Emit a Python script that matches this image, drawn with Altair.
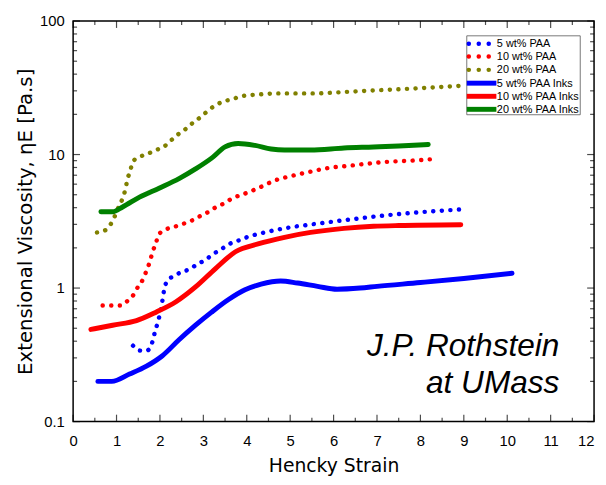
import altair as alt
import pandas as pd

# ---------------- data ----------------
series_names = ["5 wt% PAA", "10 wt% PAA", "20 wt% PAA",
                "5 wt% PAA Inks", "10 wt% PAA Inks", "20 wt% PAA Inks"]
legend_labels = ["5 wt% PAA", "10 wt% PAA", " 20 wt% PAA",
                 "5 wt% PAA Inks", "10 wt% PAA Inks", "20 wt% PAA Inks"]
series_colors = ["#0000FF", "#FF0000", "#808000", "#0000FF", "#FF0000", "#008000"]
series_dotted = [True, True, True, False, False, False]

paa5_x = [1.38, 1.55, 1.7, 1.82, 1.87, 1.94, 2.03, 2.1, 2.17, 2.3, 2.48, 2.67, 2.85, 3.05,
          3.23, 3.42, 3.6, 3.78, 4.0, 4.5, 5.0, 5.5, 6.0, 6.5, 7.0, 7.5, 8.0, 8.5, 9.04]
paa5_y = [0.37, 0.34, 0.34, 0.39, 0.45, 0.54, 0.71, 0.98, 1.14, 1.22, 1.31, 1.38, 1.5, 1.63,
          1.8, 1.96, 2.14, 2.25, 2.4, 2.65, 2.85, 3.0, 3.15, 3.3, 3.45, 3.58, 3.7, 3.8, 3.9]

paa10_x = [0.68, 0.91, 1.09, 1.25, 1.39, 1.5, 1.62, 1.7, 1.77, 1.83, 1.91, 1.96, 2.14, 2.35,
           2.55, 2.73, 2.94, 3.12, 3.3, 3.5, 3.67, 3.87, 4.26, 4.65, 5.06, 5.47, 5.9, 6.31,
           6.72, 7.2, 7.8, 8.4]
paa10_y = [0.74, 0.74, 0.74, 0.8, 0.89, 1.03, 1.18, 1.38, 1.58, 1.87, 2.17, 2.49, 2.75, 2.89,
           3.04, 3.2, 3.48, 3.72, 4.05, 4.34, 4.72, 4.97, 5.6, 6.4, 6.95, 7.45, 7.95, 8.2,
           8.5, 8.8, 9.0, 9.3]

paa20_x = [0.55, 0.73, 0.89, 1.05, 1.14, 1.21, 1.25, 1.32, 1.37, 1.53, 1.71, 1.91, 2.1, 2.26,
           2.41, 2.6, 2.76, 2.94, 3.1, 3.28, 3.49, 3.67, 3.87, 4.3, 4.72, 5.17, 5.63, 6.01,
           6.42, 6.83, 7.5, 8.2, 9.04]
paa20_y = [2.61, 2.7, 3.1, 4.05, 4.7, 5.6, 6.5, 7.6, 8.8, 9.6, 10.1, 10.8, 11.5, 12.8,
           14.1, 15.6, 17.3, 19.1, 21.2, 23.4, 25.1, 26.0, 27.3, 28.2, 28.7, 28.7, 28.7, 29.1,
           29.6, 30.1, 30.8, 31.7, 32.9]

ink5_x = [0.57, 0.89, 1.3, 1.69, 2.05, 2.44, 2.82, 3.19, 3.58, 3.96, 4.33, 4.78, 5.17, 5.63,
          6.08, 6.61, 7.0, 8.0, 9.0, 10.11]
ink5_y = [0.2, 0.2, 0.227, 0.26, 0.31, 0.41, 0.527, 0.66, 0.82, 0.97, 1.07, 1.13, 1.09, 1.03,
          0.98, 1.0, 1.03, 1.1, 1.18, 1.29]

ink10_x = [0.41, 0.91, 1.46, 1.91, 2.37, 2.82, 3.28, 3.74, 4.26, 4.87, 5.47, 6.24, 6.92, 7.5, 8.93]
ink10_y = [0.49, 0.527, 0.57, 0.66, 0.79, 1.02, 1.4, 1.87, 2.14, 2.4, 2.61, 2.8, 2.9, 2.94, 2.98]

ink20_x = [0.64, 0.91, 1.14, 1.53, 1.98, 2.44, 2.82, 3.19, 3.5, 3.8, 4.19, 4.56, 4.87, 5.47,
           6.24, 6.92, 7.5, 8.18]
ink20_y = [3.73, 3.73, 4.05, 4.8, 5.6, 6.6, 7.8, 9.4, 11.4, 12.1, 11.7, 11.0, 10.8, 10.8,
           11.2, 11.4, 11.6, 11.9]

x_ticks_major = list(range(0, 13))
x_ticks_minor = [i + 0.5 for i in range(0, 12)]
y_ticks_major = [0.1, 1, 10, 100]
y_ticks_minor = [m * d for d in (0.1, 1, 10) for m in range(2, 10)]

annot_lines = ["J.P. Rothstein", "at UMass"]
annot_x = [11.2, 11.2]
annot_y = [0.31, 0.165]

# ---------------- build tables ----------------
all_x = [paa5_x, paa10_x, paa20_x, ink5_x, ink10_x, ink20_x]
all_y = [paa5_y, paa10_y, paa20_y, ink5_y, ink10_y, ink20_y]
rows = []
for name, dotted, xs, ys in zip(series_names, series_dotted, all_x, all_y):
    for i, (xv, yv) in enumerate(zip(xs, ys)):
        rows.append({"series": name, "dotted": dotted, "x": xv, "y": yv, "i": i})
df = pd.DataFrame(rows)

W, H = 528, 406
FONT = "Liberation Sans"
TFONT = "DejaVu Sans"

x_scale = alt.Scale(domain=[0, 12], nice=False, zero=False)
y_scale = alt.Scale(type="log", domain=[0.1, 100], nice=False)

x_axis = alt.Axis(values=x_ticks_major, format="d", ticks=False, domain=False, grid=False,
                  labelPadding=12, titlePadding=9, titleFontSize=19,
                  labelAlign={"condition": {"test": "datum.value == 12", "value": "right"},
                              "value": "center"})
y_axis = alt.Axis(values=y_ticks_major, format="~g", ticks=False, domain=False, grid=False,
                  labelPadding=9, titlePadding=4, titleFontSize=20)

X = alt.X("x:Q", scale=x_scale, axis=x_axis, title="Hencky Strain")
Y = alt.Y("y:Q", scale=y_scale, axis=y_axis, title="Extensional Viscosity,  \u03b7E [Pa.s]")
color = alt.Color("series:N", scale=alt.Scale(domain=series_names, range=series_colors), legend=None)

dotted_lines = alt.Chart(df[df["dotted"]]).mark_line(
    strokeDash=[0.1, 8.6], strokeCap="round", strokeWidth=4.5, interpolate="monotone"
).encode(x=X, y=Y, color=color, order="i:Q")

solid_lines = alt.Chart(df[~df["dotted"]]).mark_line(
    strokeCap="round", strokeWidth=5, interpolate="monotone"
).encode(x=X, y=Y, color=color, order="i:Q")

# inward ticks on all four sides
def xticks(vals, size, top):
    d = pd.DataFrame({"x": vals})
    yv = size / 2 if top else H - size / 2
    return alt.Chart(d).mark_tick(orient="vertical", size=size, thickness=1.2, color="black").encode(
        x=X, y=alt.value(yv))

def yticks(vals, size, right):
    d = pd.DataFrame({"y": vals})
    xv = W - size / 2 if right else size / 2
    return alt.Chart(d).mark_tick(orient="horizontal", size=size, thickness=1.2, color="black").encode(
        y=Y, x=alt.value(xv))

tick_layers = [
    xticks(x_ticks_major, 7, False), xticks(x_ticks_minor, 4, False),
    xticks(x_ticks_major, 7, True), xticks(x_ticks_minor, 4, True),
    yticks(y_ticks_major, 7, False), yticks(y_ticks_minor, 4, False),
    yticks(y_ticks_major, 7, True), yticks(y_ticks_minor, 4, True),
]

# annotation
annot_df = pd.DataFrame({"x": annot_x, "y": annot_y, "t": annot_lines})
annot = alt.Chart(annot_df).mark_text(
    align="right", baseline="alphabetic", font=FONT, fontSize=32, fontStyle="italic", color="black"
).encode(x=X, y=Y, text="t:N")

# legend box (drawn manually)
one = pd.DataFrame({"a": [0]})
legend_layers = [
    alt.Chart(one).mark_rect(fill="white", stroke="#555555", strokeWidth=0.8).encode(
        x=alt.value(399), x2=alt.value(514), y=alt.value(15), y2=alt.value(95))
]
row_y = [23, 36, 49.5, 63, 76.3, 89.5]
for lab, col, dotted, ry in zip(legend_labels, series_colors, series_dotted, row_y):
    if dotted:
        sym = alt.Chart(one).mark_rule(strokeDash=[0.1, 10], strokeCap="round", strokeWidth=4.5,
                                       color=col).encode(
            x=alt.value(401), x2=alt.value(421.5), y=alt.value(ry))
    else:
        sym = alt.Chart(one).mark_rule(strokeWidth=5, color=col).encode(
            x=alt.value(399), x2=alt.value(429), y=alt.value(ry))
    txt = alt.Chart(one).mark_text(align="left", baseline="middle", font=FONT, fontSize=11,
                                   color="black").encode(
        x=alt.value(429.5), y=alt.value(ry + 0.5), text=alt.value(lab))
    legend_layers += [sym, txt]

chart = alt.layer(
    *tick_layers, dotted_lines, solid_lines, annot, *legend_layers
).properties(
    width=W, height=H,
    autosize=alt.AutoSizeParams(type="none"),
    padding={"left": 66, "top": 10, "right": 4, "bottom": 55}
).configure_view(
    stroke="black", strokeWidth=1.5
).configure_axis(
    labelFont=FONT, titleFont=TFONT, labelFontSize=15,
    labelColor="black", titleColor="black", titleFontWeight="normal"
)

chart.save("out.html", embed_options={"renderer": "svg", "actions": False})
